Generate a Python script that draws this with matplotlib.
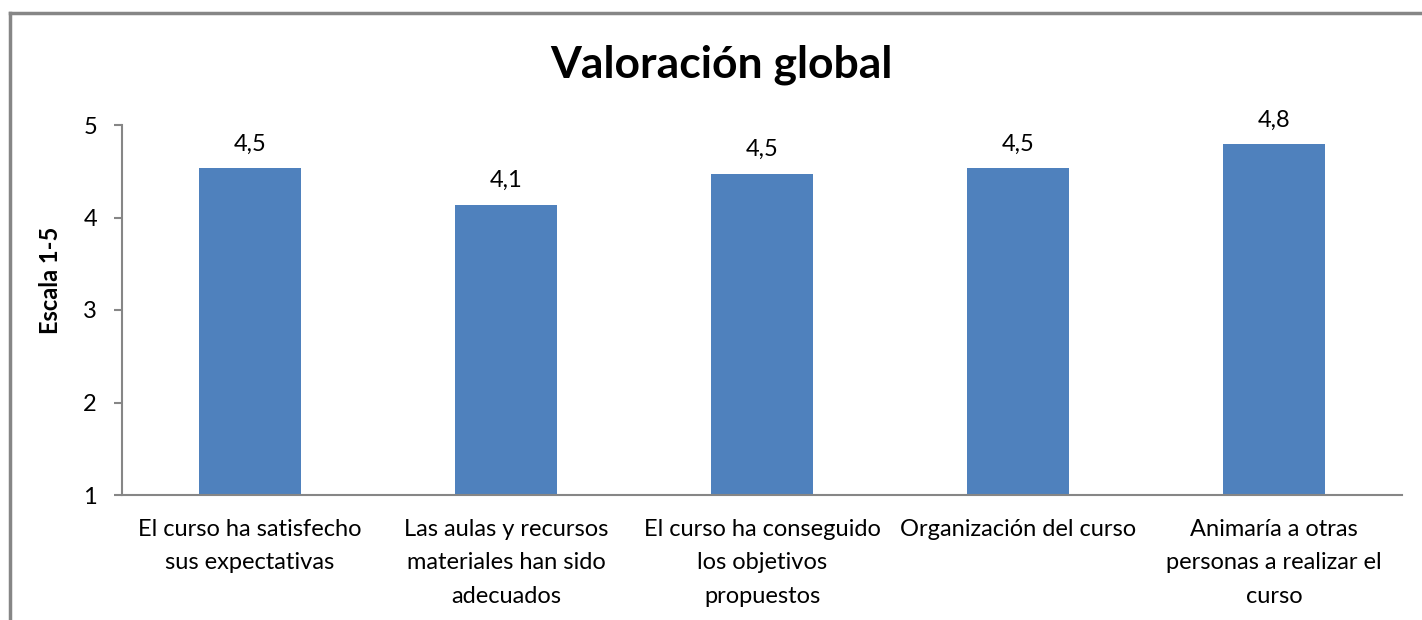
import numpy as np
import matplotlib.pyplot as plt
from matplotlib.lines import Line2D

plt.rcParams['font.family'] = ['Lato', 'DejaVu Sans']

categorias = [
    "El curso ha satisfecho\nsus expectativas",
    "Las aulas y recursos\nmateriales han sido\nadecuados",
    "El curso ha conseguido\nlos objetivos\npropuestos",
    "Organización del curso",
    "Animaría a otras\npersonas a realizar el\ncurso",
]
valores = [4.53, 4.14, 4.47, 4.53, 4.79]
etiquetas = ["4,5", "4,1", "4,5", "4,5", "4,8"]
y_ticks = [1, 2, 3, 4, 5]

gris = '#868686'
azul = '#4F81BD'

fig = plt.figure(figsize=(14.22, 6.2), dpi=100)

# marco del gráfico (arriba e izquierda)
fig.add_artist(Line2D([10/1422, 1.0], [1 - 13/620, 1 - 13/620], color=gris, lw=2.5))
fig.add_artist(Line2D([10/1422, 10/1422], [0, 1 - 13/620], color=gris, lw=2.5))

ax = fig.add_axes([122/1422, 1 - 495/620, 1280/1422, 370/620])

x = np.arange(len(categorias))
ax.bar(x, valores, width=0.4, color=azul, zorder=2)

for xi, v, t in zip(x, valores, etiquetas):
    ax.annotate(t, (xi, v), xytext=(0, 10), textcoords='offset points',
                ha='center', va='bottom', fontsize=17)

ax.set_xlim(-0.5, len(categorias) - 0.5)
ax.set_ylim(1, 5)
ax.set_yticks(y_ticks)
ax.set_yticklabels([str(t) for t in y_ticks], fontsize=17)
ax.set_xticks(x)
ax.set_xticklabels(categorias, fontsize=17, linespacing=1.75)
ax.tick_params(axis='x', length=0, pad=17)
ax.tick_params(axis='y', length=6, width=1.5, color=gris, pad=12)

for s in ['top', 'right']:
    ax.spines[s].set_visible(False)
for s in ['left', 'bottom']:
    ax.spines[s].set_color(gris)
    ax.spines[s].set_linewidth(1.5)

fig.text(721/1422, 1 - 65/620, "Valoración global", ha='center', va='center',
         fontsize=32, fontweight='bold')
fig.text(50/1422, 1 - 280/620, "Escala 1-5", ha='center', va='center',
         rotation=90, fontsize=17, fontweight='bold')

fig.savefig('out.png', dpi=100)
